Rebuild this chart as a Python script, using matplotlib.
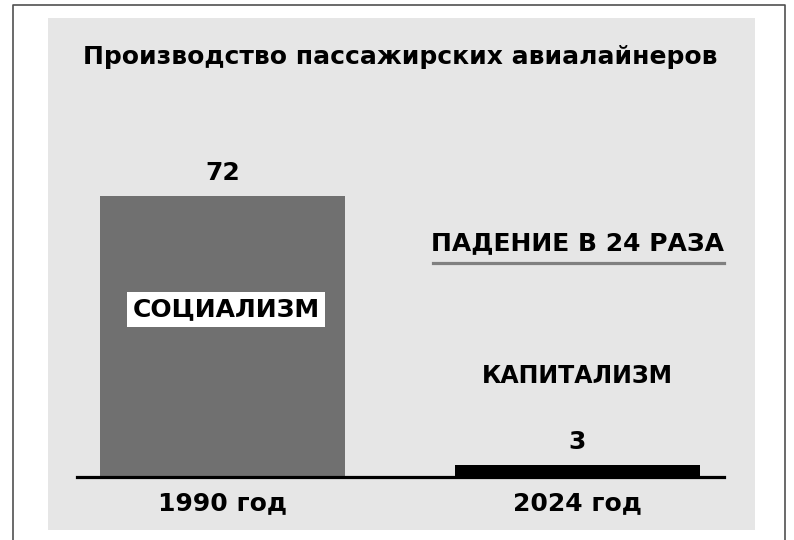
import matplotlib.pyplot as plt
from matplotlib.patches import Rectangle
from matplotlib.lines import Line2D

# Данные
years = ['1990 год', '2024 год']
planes = [72, 3]
bar_colors = ['#707070', '#000000']

W, H = 794, 540
fig = plt.figure(figsize=(W / 100, H / 100), dpi=100)
fig.patch.set_facecolor('white')


def fx(px):
    return px / W


def fy(py):
    return 1 - py / H


# Рамка и серая подложка
fig.add_artist(Line2D([fx(13), fx(13), fx(785), fx(785)], [0, fy(5), fy(5), 0],
                      color='#505050', lw=1.2))
fig.add_artist(Rectangle((fx(48), fy(530)), fx(755) - fx(48), fy(18) - fy(530),
                         facecolor='#e6e6e6', edgecolor='none', zorder=0))

# Оси: базовая линия на y=477 px
ax = fig.add_axes([fx(77), fy(477), fx(724) - fx(77), fy(100) - fy(477)])
ax.patch.set_alpha(0)
ax.bar(range(len(planes)), planes, width=0.69, color=bar_colors, zorder=2)
ax.set_xlim(-0.41, 1.413)
ax.set_ylim(0, 377 / 3.9)

for s in ['top', 'left', 'right']:
    ax.spines[s].set_visible(False)
ax.spines['bottom'].set_linewidth(2.3)
ax.spines['bottom'].set_zorder(3)
ax.set_yticks([])
ax.set_xticks(range(len(years)))
ax.set_xticklabels(years, fontsize=18, fontweight='bold')
ax.tick_params(axis='x', length=0, pad=10)

# Значения над столбцами
for i, v in enumerate(planes):
    ax.annotate(str(v), (i, v), xytext=(0, 16.5), textcoords='offset points',
                ha='center', va='center', fontsize=18, fontweight='bold')

# Заголовок
fig.text(fx(400), fy(57), 'Производство пассажирских авиалайнеров',
         ha='center', va='center', fontsize=18, fontweight='bold')

# Подписи
ax.text(0.01, 43, 'СОЦИАЛИЗМ', ha='center', va='center', fontsize=18,
        fontweight='bold', zorder=4,
        bbox=dict(facecolor='white', edgecolor='none', pad=4))
ax.text(1, 26, 'КАПИТАЛИЗМ', ha='center', va='center', fontsize=17,
        fontweight='bold')
fig.text(fx(577.5), fy(243), 'ПАДЕНИЕ В 24 РАЗА', ha='center', va='center',
         fontsize=18, fontweight='bold')
fig.add_artist(Line2D([fx(433), fx(724)], [fy(263), fy(263)],
                      color='#808080', lw=2.3))

fig.savefig('out.png', dpi=100)
